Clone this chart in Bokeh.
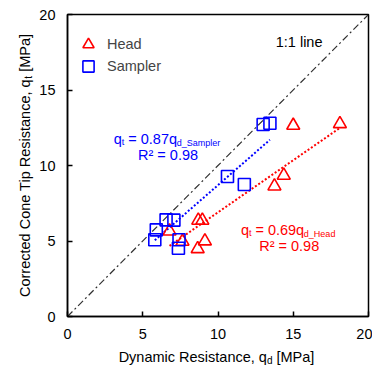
import math
from bokeh.plotting import figure
from bokeh.models import Range1d, Label, Legend, LegendItem
from bokeh.layouts import row, column
from bokeh.embed import file_html
from bokeh.resources import INLINE

# ---- data ----
head_qd = [6.78, 7.64, 8.65, 8.69, 8.96, 9.13, 13.75, 14.37, 15.0, 18.1]
head_qt = [5.65, 4.97, 4.48, 6.36, 6.36, 4.99, 8.63, 9.34, 12.65, 12.76]
sampler_qd = [5.8, 5.9, 6.55, 7.07, 7.37, 7.41, 10.63, 11.75, 13.0, 13.45]
sampler_qt = [5.08, 5.74, 6.4, 6.38, 4.52, 5.08, 9.27, 8.74, 12.72, 12.8]
head_slope = 0.69
sampler_slope = 0.87
r2_head = 0.98
r2_sampler = 0.98
ticks = [0, 5, 10, 15, 20]

FONT = "Liberation Sans"
RED = "#FF0000"
BLUE = "#0000FF"

TOTAL_W, TOTAL_H = 372, 367
YLAB_W = 36          # strip holding the y-axis title
XLAB_H = 21          # strip holding the x-axis title
MAIN_W = TOTAL_W - YLAB_W
MAIN_H = TOTAL_H - XLAB_H
ML, MR, MT, MB = 29, 4, 14, 30
BASE_FIX = 5         # rendered alphabetic baseline sits this much lower

p = figure(width=MAIN_W, height=MAIN_H, output_backend="svg", toolbar_location=None,
           x_range=Range1d(0, 20), y_range=Range1d(0, 20),
           min_border_left=ML, min_border_right=MR, min_border_top=MT, min_border_bottom=MB)
p.background_fill_color = "white"
p.border_fill_color = "white"
p.grid.visible = False
p.outline_line_color = "black"
p.outline_line_width = 1.5
for ax in (p.xaxis[0], p.yaxis[0]):
    ax.ticker = ticks
    ax.axis_line_color = "black"
    ax.axis_line_width = 1.5
    ax.major_tick_in = 5
    ax.major_tick_out = 0
    ax.major_tick_line_width = 1.5
    ax.minor_tick_line_color = None
    ax.major_label_text_font = FONT
    ax.major_label_text_font_size = "14.5px"
    ax.major_label_text_color = "black"
p.xaxis.major_label_standoff = 12
p.yaxis.major_label_standoff = 12

# global pixel positions of the frame (for text placement only)
FL = YLAB_W + ML
FR = YLAB_W + MAIN_W - MR
FT = MT
FB = MAIN_H - MB
SX = (FR - FL) / 20.0
SY = (FB - FT) / 20.0
def main_x(px):
    return (px - FL) / SX
def main_y(py):
    return (FB - py) / SY

AW = {' ': 278, ',': 278, '.': 278, ':': 278, '=': 584, '[': 278, ']': 278, '²': 333, '_': 556,
      'C': 722, 'D': 722, 'H': 722, 'M': 833, 'P': 667, 'R': 722, 'S': 667, 'T': 611,
      'a': 556, 'c': 500, 'd': 556, 'e': 556, 'i': 222, 'l': 222, 'm': 833, 'n': 556,
      'o': 556, 'p': 556, 'q': 556, 'r': 333, 's': 500, 't': 278, 'y': 500}
for ch in "0123456789":
    AW[ch] = 556
def tw(s, size):
    return sum(AW.get(c, 556) for c in s) * size / 1000.0

def rich_h(fig, cx_, cy_, pieces, cx, base, color):
    total = sum(tw(t, s) for t, s, d in pieces)
    x0 = cx - total / 2.0
    for t, s, d in pieces:
        lead = len(t) - len(t.lstrip(' '))
        x0 += tw(' ' * lead, s)
        t2 = t.lstrip(' ')
        fig.add_layout(Label(x=cx_(x0), y=cy_(base + d - BASE_FIX), text=t2, text_align="left",
                             text_baseline="alphabetic", text_font=FONT,
                             text_font_size=f"{s}px", text_color=color))
        x0 += tw(t2, s)

def rich_v(fig, cx_, cy_, pieces, cy, base_x, color):
    total = sum(tw(t, s) for t, s, d in pieces)
    y0 = cy + total / 2.0
    for t, s, d in pieces:
        lead = len(t) - len(t.lstrip(' '))
        y0 -= tw(' ' * lead, s)
        t2 = t.lstrip(' ')
        fig.add_layout(Label(x=cx_(base_x + d - BASE_FIX), y=cy_(y0), text=t2, angle=math.pi / 2,
                             text_align="left", text_baseline="alphabetic", text_font=FONT,
                             text_font_size=f"{s}px", text_color=color))
        y0 -= tw(t2, s)

# 1:1 line
p.line([0, 20], [0, 20], line_color="#303030", line_width=1.2, line_dash="7 3 2 3")

# trend lines
sx = [min(sampler_qd), max(sampler_qd)]
p.line(sx, [sampler_slope * v for v in sx], line_color=BLUE, line_width=2, line_dash="2 2")
hx = [min(head_qd), max(head_qd)]
p.line(hx, [head_slope * v for v in hx], line_color=RED, line_width=2, line_dash="2 2")

# markers
r_head = p.scatter(head_qd, head_qt, marker="triangle", size=13, fill_color=None,
                   line_color=RED, line_width=1.6)
r_samp = p.scatter(sampler_qd, sampler_qt, marker="square", size=12, fill_color=None,
                   line_color=BLUE, line_width=1.6)

def one_legend(label, rend, center_py):
    gh = 28
    bottom_py = center_py + gh / 2.0
    return Legend(items=[LegendItem(label=label, renderers=[rend])],
                  location=(7, FB - bottom_py), padding=0, margin=0, spacing=0,
                  glyph_width=gh, glyph_height=gh, label_standoff=5,
                  label_text_font=FONT, label_text_font_size="14.5px",
                  border_line_color=None, background_fill_alpha=0)
p.add_layout(one_legend("Head", r_head, 44))
p.add_layout(one_legend("Sampler", r_samp, 66))

# annotations inside the frame
rich_h(p, main_x, main_y, [("1:1 line", 14.5, 0)], 298, 46, "black")
rich_h(p, main_x, main_y, [("q", 14.5, 0), ("t", 9, 3), (" = %.2fq" % sampler_slope, 14.5, 0),
                           ("d_Sampler", 9, 4)], 165, 143, BLUE)
rich_h(p, main_x, main_y, [("R² = %.2f" % r2_sampler, 14.5, 0)], 166, 159, BLUE)
rich_h(p, main_x, main_y, [("q", 14.5, 0), ("t", 9, 3), (" = %.2fq" % head_slope, 14.5, 0),
                           ("d_Head", 9, 4)], 287, 234, RED)
rich_h(p, main_x, main_y, [("R² = %.2f" % r2_head, 14.5, 0)], 288, 250, RED)

def strip(w, h, top, bottom):
    f = figure(width=w, height=h, output_backend="svg", toolbar_location=None,
               x_range=Range1d(0, w), y_range=Range1d(0, h - top - bottom),
               x_axis_location=None, y_axis_location=None,
               min_border_left=0, min_border_right=0,
               min_border_top=top, min_border_bottom=bottom)
    f.outline_line_color = None
    f.grid.visible = False
    f.background_fill_color = "white"
    f.border_fill_color = "white"
    return f

# y-axis title strip: frame rows aligned with main frame (FT..FB)
fy = strip(YLAB_W, MAIN_H, MT, MB)
def fy_x(px):
    return px
def fy_y(py):
    return FB - py
rich_v(fy, fy_x, fy_y, [("Corrected Cone Tip Resistance, q", 14.5, 0), ("t", 10, 4),
                        (" [MPa]", 14.5, 0)], 165, 29, "black")

# x-axis title strip: frame covers global rows MAIN_H..TOTAL_H
fx = strip(TOTAL_W, XLAB_H, 0, 0)
def fx_x(px):
    return px
def fx_y(py):
    return TOTAL_H - py
rich_h(fx, fx_x, fx_y, [("Dynamic Resistance, q", 14.5, 0), ("d", 10, 4), (" [MPa]", 14.5, 0)],
       216, 361, "black")

layout = column(row(fy, p, spacing=0), fx, spacing=0)
open("out.html", "w").write(file_html(layout, INLINE))
